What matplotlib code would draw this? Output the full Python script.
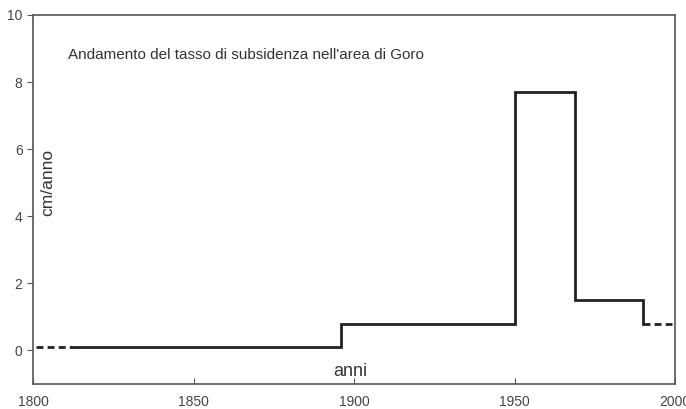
import matplotlib
matplotlib.use('Agg')
import matplotlib.pyplot as plt

# Step values of subsidence rate (cm/anno)
edges = [1812, 1896, 1950, 1969, 1990]
rates = [0.1, 0.8, 7.7, 1.5, 0.8]
start_year, start_rate = 1801, 0.1
end_year = 1999

plt.rcParams.update({
    'font.family': ['Liberation Sans', 'DejaVu Sans'],
    'font.size': 10,
})

fig = plt.figure(figsize=(6.86, 4.09), dpi=100)
ax = fig.add_axes([33 / 686, 1 - 384 / 409, (675 - 33) / 686, (384 - 15) / 409])

# dashed leading segment
ax.plot([start_year, edges[0]], [start_rate, start_rate], color='#222222',
        lw=2.0, ls=(0, (2.5, 1.5)))

# solid step line
xs = [edges[0]]
ys = [rates[0]]
for i in range(1, len(edges)):
    xs += [edges[i], edges[i]]
    ys += [rates[i - 1], rates[i]]
ax.plot(xs, ys, color='#222222', lw=2.0, solid_joinstyle='miter')

# dashed trailing segment
ax.plot([edges[-1], end_year], [rates[-1], rates[-1]], color='#222222',
        lw=2.0, ls=(0, (2.5, 1.5)))

ax.set_xlim(1800, 2000)
ax.set_ylim(-1, 10)
ax.set_xticks([1800, 1850, 1900, 1950, 2000])
ax.set_yticks([0, 2, 4, 6, 8, 10])
ax.tick_params(axis='y', direction='out', length=4, width=0.8, colors='#555555',
               labelcolor='#444444', labelsize=10)
ax.tick_params(axis='x', direction='in', length=4, width=0.8, colors='#555555',
               labelcolor='#444444', labelsize=10, pad=8)
for s in ax.spines.values():
    s.set_linewidth(1.2)
    s.set_color('#555555')

ax.text(0.055, 0.892, "Andamento del tasso di subsidenza nell'area di Goro",
        transform=ax.transAxes, fontsize=11, color='#333333', va='center')
ax.text(0.023, 0.547, 'cm/anno', transform=ax.transAxes, rotation=90,
        fontsize=12.5, color='#333333', ha='center', va='center')
ax.text(0.495, 0.033, 'anni', transform=ax.transAxes, fontsize=13,
        color='#333333', ha='center', va='center')

fig.savefig('out.png', dpi=100)
